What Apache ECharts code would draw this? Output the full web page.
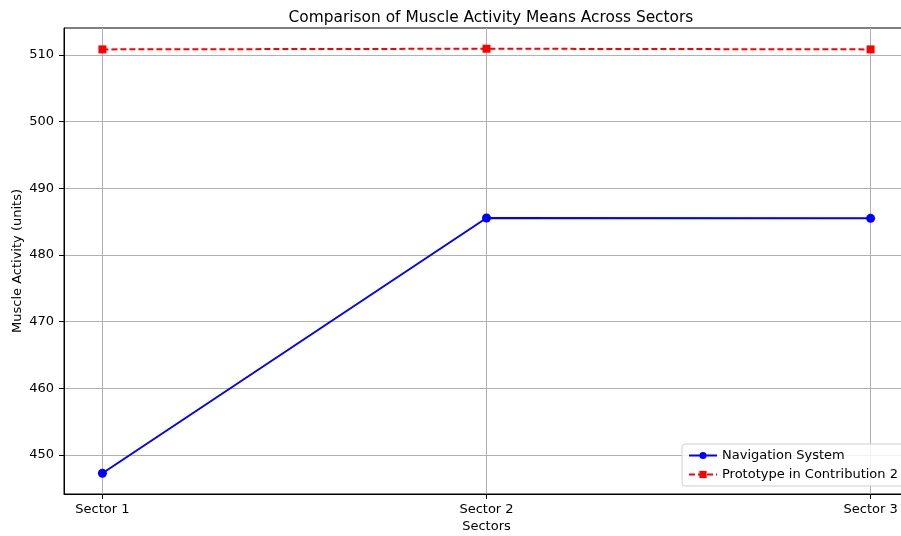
<!DOCTYPE html>
<html>
<head>
<meta charset="utf-8">
<script src="https://cdn.jsdelivr.net/npm/echarts@6/dist/echarts.min.js"></script>
<style>
  html, body { margin: 0; padding: 0; background: #fff; overflow: hidden; }
  #main { width: 901px; height: 536px; }
</style>
</head>
<body>
<div id="main"></div>
<script>
const sectors = ["Sector 1", "Sector 2", "Sector 3"];
const navigationSystem = [447.25, 485.55, 485.5];
const prototypeC2 = [510.85, 510.95, 510.85];
const yTicks = [450, 460, 470, 480, 490, 500, 510];

const font = "DejaVu Sans";
const chart = echarts.init(document.getElementById("main"), null, { renderer: "canvas" });

const toPairs = vals => vals.map((v, i) => [i, v]);

chart.setOption({
	animation: false,
	textStyle: { fontFamily: font },
	title: {
		text: "Comparison of Muscle Activity Means Across Sectors",
		left: 486,
		top: 5,
		textAlign: "center",
		textStyle: { fontFamily: font, fontSize: 15.4, fontWeight: "normal", color: "#000" },
	},
	grid: {
		left: 64,
		right: -8,
		top: 28,
		bottom: 42,
		outerBoundsMode: "none",
		containLabel: false,
		show: true,
		borderColor: "#000",
		borderWidth: 1,
	},
	legend: {
		orient: "vertical",
		left: 682,
		top: 444,
		itemWidth: 28,
		itemHeight: 9,
		itemGap: 6,
		padding: [5, 10, 5, 6],
		backgroundColor: "rgba(255,255,255,0.85)",
		borderColor: "#d0d0d0",
		borderWidth: 1,
		borderRadius: 3,
		textStyle: { fontFamily: font, fontSize: 13, color: "#000" },
		data: ["Navigation System", "Prototype in Contribution 2"],
	},
	xAxis: {
		type: "value",
		min: -0.1,
		max: 2.1,
		name: "Sectors",
		nameLocation: "middle",
		nameGap: 26,
		nameMoveOverlap: false,
		nameTextStyle: { fontFamily: font, fontSize: 13, color: "#000" },
		axisLine: { show: true, onZero: false, lineStyle: { color: "#000", width: 1 } },
		axisTick: { show: true, inside: false, customValues: [0, 1, 2], length: 5, lineStyle: { color: "#000", width: 1 } },
		axisLabel: {
			customValues: [0, 1, 2],
			formatter: v => sectors[Math.round(v)] || "",
			fontFamily: font, fontSize: 13, color: "#000", margin: 9,
		},
		splitLine: { show: true, lineStyle: { color: "#b0b0b0", width: 1 } },
	},
	yAxis: {
		type: "value",
		min: 444.14,
		max: 514.06,
		name: "Muscle Activity (units)",
		nameLocation: "middle",
		nameGap: 40,
		nameMoveOverlap: false,
		nameTextStyle: { fontFamily: font, fontSize: 13, color: "#000" },
		axisLine: { show: true, onZero: false, lineStyle: { color: "#000", width: 1 } },
		axisTick: { show: true, inside: false, customValues: yTicks, length: 5, lineStyle: { color: "#000", width: 1 } },
		axisLabel: {
			customValues: yTicks,
			fontFamily: font, fontSize: 13, color: "#000", margin: 10,
		},
		splitLine: { show: true, lineStyle: { color: "#b0b0b0", width: 1 } },
	},
	series: [
		{
			name: "Navigation System",
			type: "line",
			data: toPairs(navigationSystem),
			symbol: "circle",
			symbolSize: 9,
			color: "#0000ff",
			lineStyle: { color: "#0000ff", width: 2 },
			itemStyle: { color: "#0000ff" },
		},
		{
			name: "Prototype in Contribution 2",
			type: "line",
			data: toPairs(prototypeC2),
			symbol: "rect",
			symbolSize: 8,
			color: "#ff0000",
			lineStyle: { color: "#ff0000", width: 2, type: [6, 3] },
			itemStyle: { color: "#ff0000" },
		},
	],
});
</script>
</body>
</html>
